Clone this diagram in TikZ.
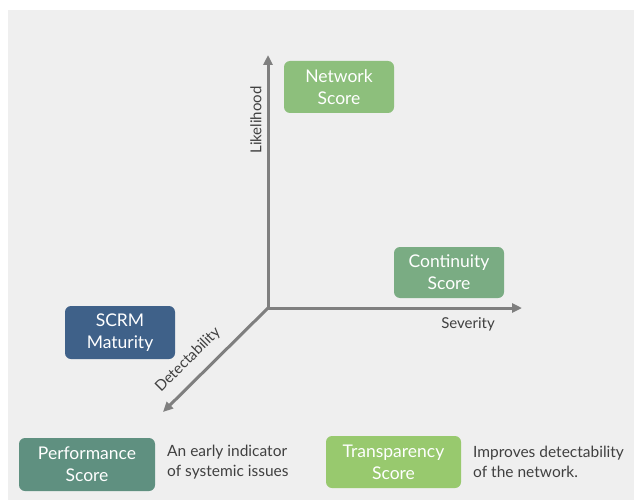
\documentclass[tikz,border=0pt]{standalone}
\usepackage{fontspec}
\setmainfont{Lato}
\usetikzlibrary{arrows.meta}
\definecolor{bgc}{HTML}{EFEFEF}
\definecolor{axc}{HTML}{7F7F7F}
\definecolor{netc}{HTML}{8DBF7C}
\definecolor{conc}{HTML}{7AAC83}
\definecolor{scrmc}{HTML}{3F6189}
\definecolor{perfc}{HTML}{5F9080}
\definecolor{tranc}{HTML}{98C96E}
\definecolor{txc}{HTML}{404040}
\tikzset{
  x=1pt, y=-1pt,
  scorebox/.style={rounded corners=6pt, text=white, align=center, inner sep=0pt, font=\fontsize{17.5}{22}\selectfont},
  axisline/.style={draw=axc, line width=3pt, -{Triangle[length=10pt,width=9pt]}},
  axlabel/.style={text=txc, font=\fontsize{15}{18}\selectfont, inner sep=0pt},
  desc/.style={text=txc, font=\fontsize{15.5}{20}\selectfont, align=left, inner sep=0pt, anchor=west}
}
\begin{document}
\begin{tikzpicture}
\useasboundingbox (0,0) rectangle (634,500);
\fill[bgc] (8,10) rectangle (634,500);
\node[scorebox, fill=netc, minimum width=110pt, minimum height=52pt] (net) at (339,87) {Network\\Score};
\node[scorebox, fill=conc, minimum width=110pt, minimum height=51pt] (con) at (449,272.5) {Continuity\\Score};
\node[scorebox, fill=scrmc, minimum width=110pt, minimum height=53pt] (scrm) at (120,332.5) {SCRM\\Maturity};
\node[scorebox, fill=perfc, minimum width=136pt, minimum height=53pt] (perf) at (87,464.5) {Performance\\Score};
\node[scorebox, fill=tranc, minimum width=135pt, minimum height=52pt] (tran) at (393.5,462) {Transparency\\Score};
\coordinate (o) at (268,308);
\coordinate (up) at (268,55);
\coordinate (rt) at (522,308);
\coordinate (dl) at (163,412);
\draw[axisline] (o) -- (up);
\draw[axisline] (o) -- (rt);
\draw[axisline, shorten <=-1pt] (o) -- (dl);
\node[axlabel, rotate=90] (lik) at (256,120) {Likelihood};
\node[axlabel] (sev) at (468,324) {Severity};
\node[axlabel, rotate=45] (det) at (188,360) {Detectability};
\node[desc] (d1) at (167,462) {An early indicator\\of systemic issues};
\node[desc] (d2) at (473,462) {Improves detectability\\of the network.};
\end{tikzpicture}
\end{document}
